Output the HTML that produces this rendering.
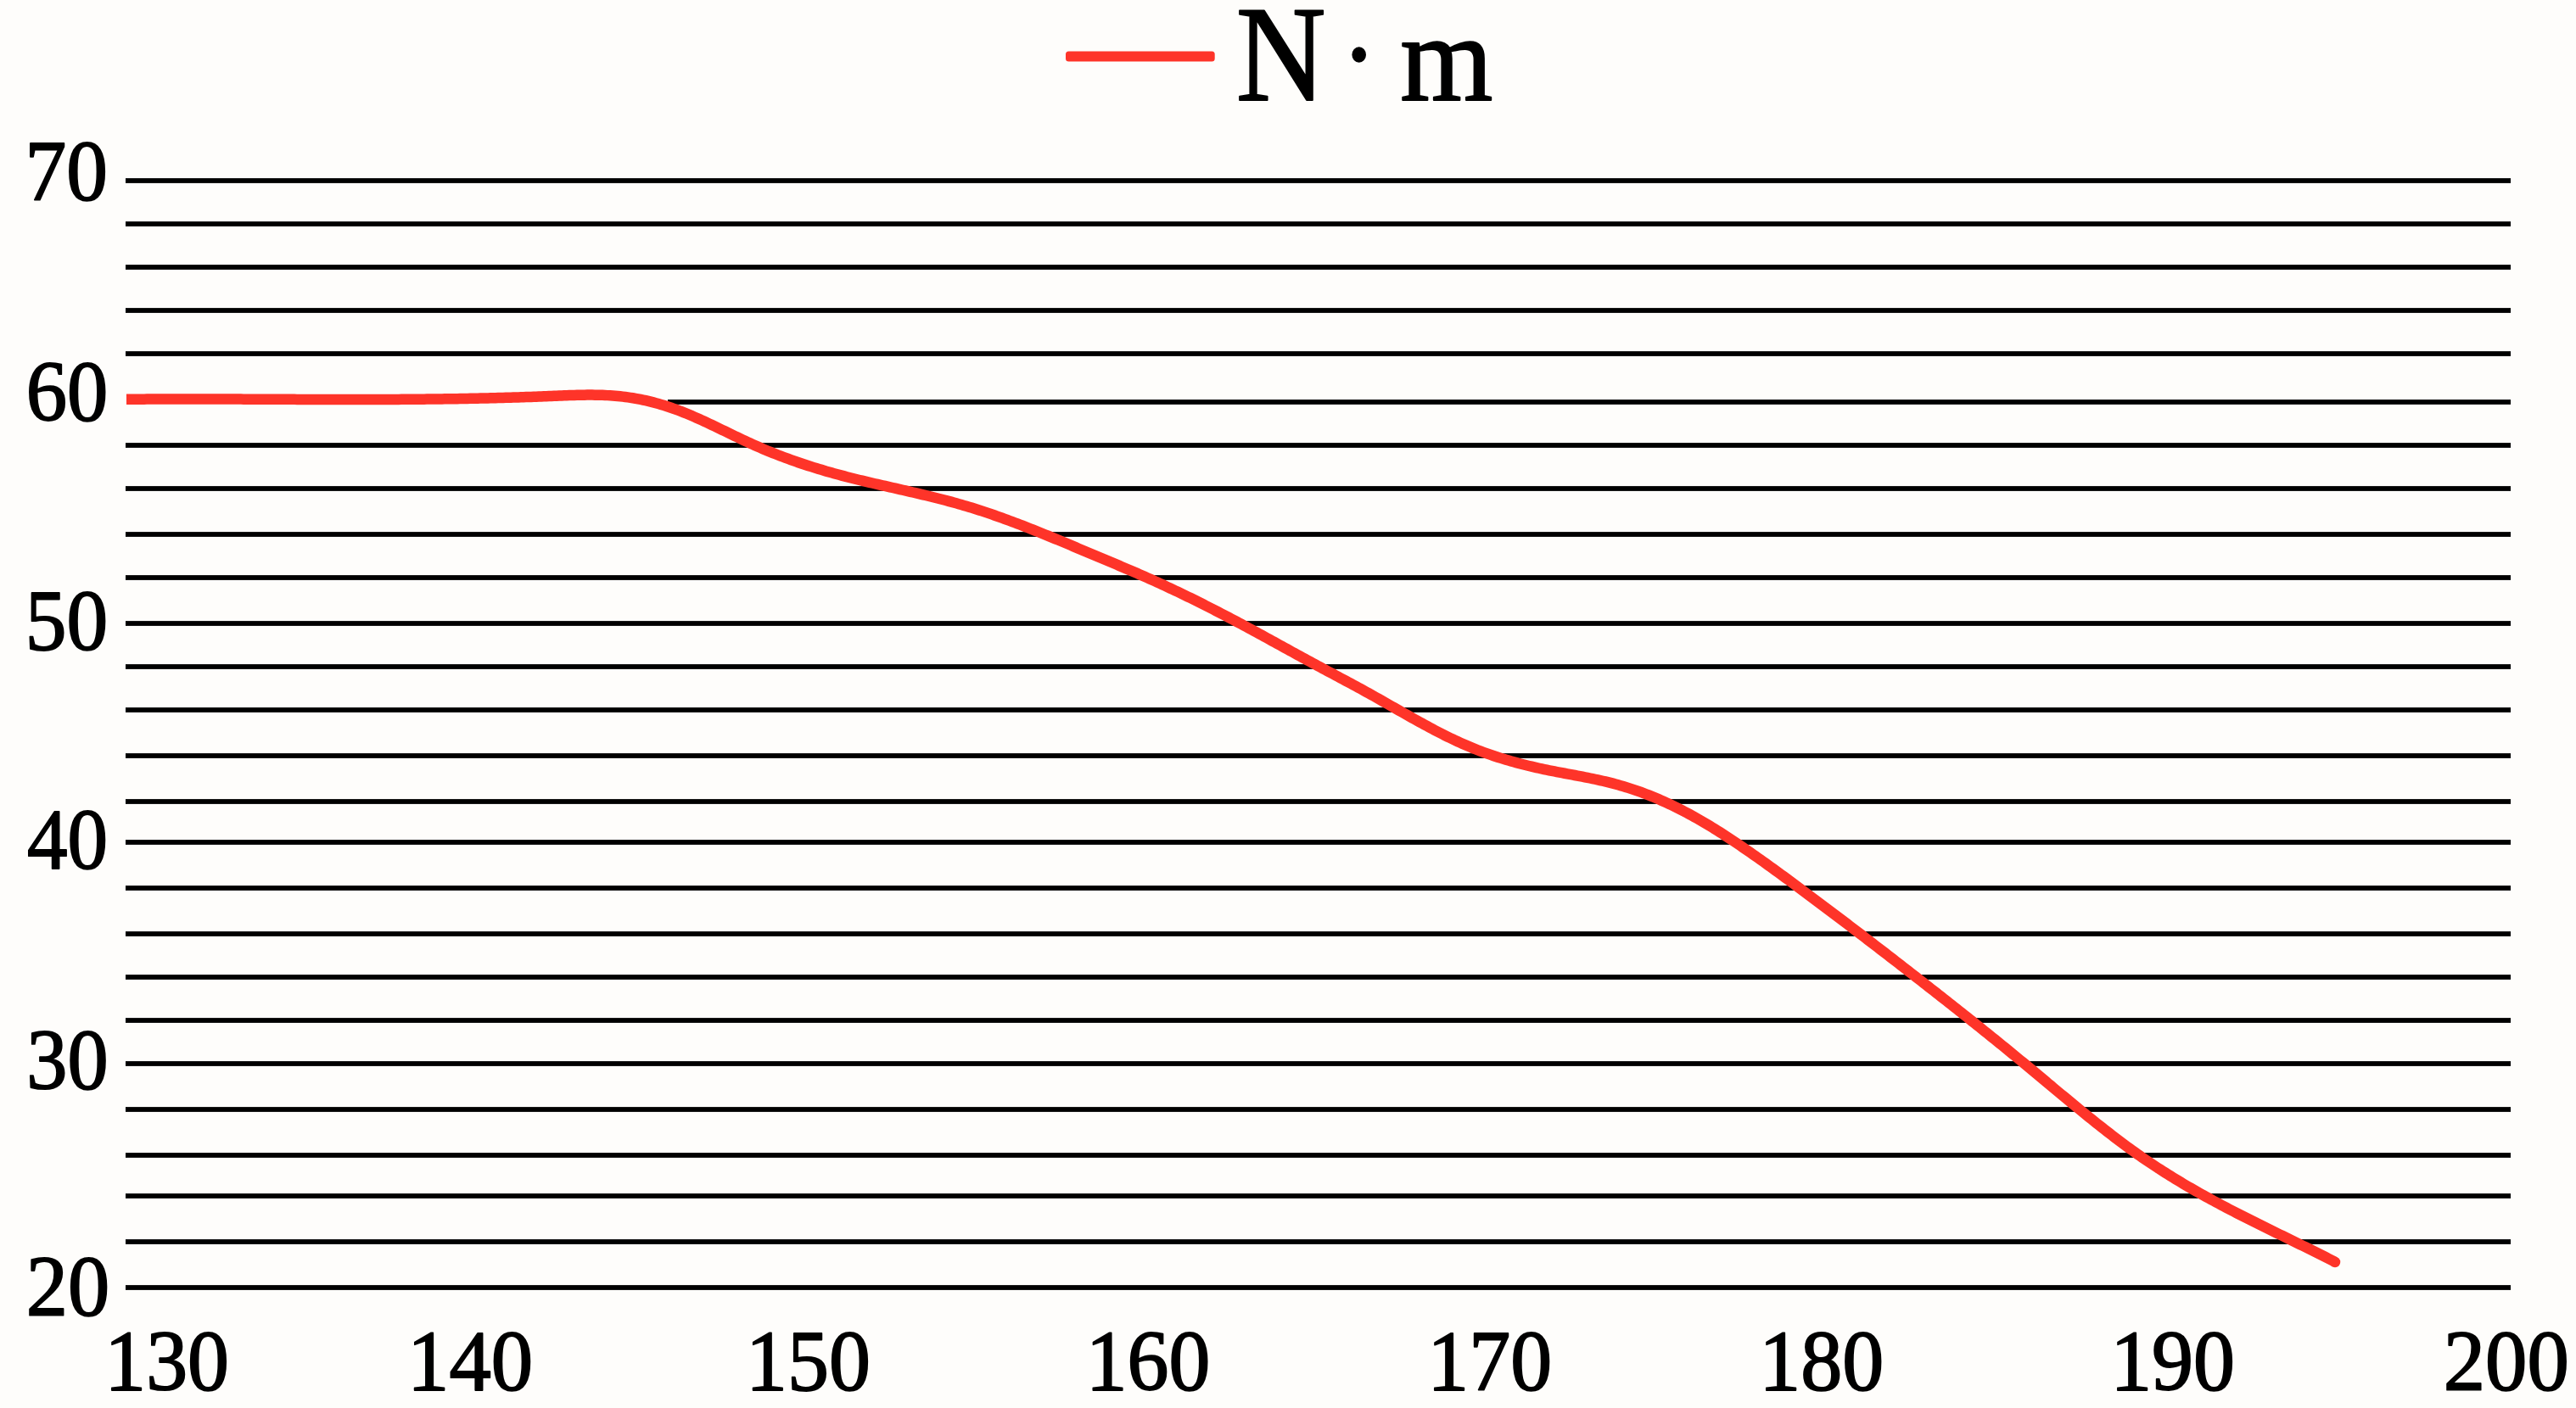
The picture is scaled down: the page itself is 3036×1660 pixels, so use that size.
<!DOCTYPE html>
<html><head><meta charset="utf-8"><title>N&#183;m chart</title>
<style>
html,body{margin:0;padding:0;background:#fefdfb;}
body{width:3036px;height:1660px;overflow:hidden;font-family:"Liberation Serif",serif;}
svg{display:block;}
</style></head>
<body>
<svg width="3036" height="1660" viewBox="0 0 3036 1660">
<rect x="0" y="0" width="3036" height="1660" fill="#fefdfb"/>
<g fill="#000">
<rect x="148" y="210.1" width="2811" height="5.8"/>
<rect x="148" y="261.1" width="2811" height="5.8"/>
<rect x="148" y="312.1" width="2811" height="5.8"/>
<rect x="148" y="363.1" width="2811" height="5.8"/>
<rect x="148" y="414.1" width="2811" height="5.8"/>
<rect x="787" y="471.1" width="2172" height="5.8"/>
<rect x="148" y="522.1" width="2811" height="5.8"/>
<rect x="148" y="573.1" width="2811" height="5.8"/>
<rect x="148" y="627.1" width="2811" height="5.8"/>
<rect x="148" y="678.1" width="2811" height="5.8"/>
<rect x="148" y="732.1" width="2811" height="5.8"/>
<rect x="148" y="783.1" width="2811" height="5.8"/>
<rect x="148" y="834.1" width="2811" height="5.8"/>
<rect x="148" y="888.1" width="2811" height="5.8"/>
<rect x="148" y="942.1" width="2811" height="5.8"/>
<rect x="148" y="990.1" width="2811" height="5.8"/>
<rect x="148" y="1044.1" width="2811" height="5.8"/>
<rect x="148" y="1098.1" width="2811" height="5.8"/>
<rect x="148" y="1149.1" width="2811" height="5.8"/>
<rect x="148" y="1200.1" width="2811" height="5.8"/>
<rect x="148" y="1251.1" width="2811" height="5.8"/>
<rect x="148" y="1305.1" width="2811" height="5.8"/>
<rect x="148" y="1359.1" width="2811" height="5.8"/>
<rect x="148" y="1407.1" width="2811" height="5.8"/>
<rect x="148" y="1461.1" width="2811" height="5.8"/>
<rect x="148" y="1515.1" width="2811" height="5.8"/>
<path d="M149.0,470.78 L152.0,470.76 L155.0,470.73 L158.0,470.71 L161.0,470.69 L164.0,470.67 L167.0,470.65 L170.0,470.63 L173.0,470.62 L176.0,470.60 L179.0,470.59 L182.0,470.58 L185.0,470.56 L188.0,470.55 L191.0,470.54 L194.0,470.54 L197.0,470.53 L200.0,470.52 L203.0,470.51 L206.0,470.51 L209.0,470.51 L212.0,470.50 L215.0,470.50 L218.0,470.50 L221.0,470.50 L224.0,470.50 L227.0,470.50 L230.0,470.50 L233.0,470.50 L236.0,470.50 L239.0,470.51 L242.0,470.51 L245.0,470.52 L248.0,470.52 L251.0,470.53 L254.0,470.53 L257.0,470.54 L260.0,470.55 L263.0,470.56 L266.0,470.56 L269.0,470.57 L272.0,470.58 L275.0,470.59 L278.0,470.60 L281.0,470.61 L284.0,470.62 L287.0,470.63 L290.0,470.64 L293.0,470.66 L296.0,470.67 L299.0,470.68 L302.0,470.69 L305.0,470.70 L308.0,470.71 L311.0,470.73 L314.0,470.74 L317.0,470.75 L320.0,470.76 L323.0,470.78 L326.0,470.79 L329.0,470.80 L332.0,470.81 L335.0,470.82 L338.0,470.84 L341.0,470.85 L344.0,470.86 L347.0,470.87 L350.0,470.88 L353.0,470.89 L356.0,470.90 L359.0,470.91 L362.0,470.92 L365.0,470.93 L368.0,470.94 L371.0,470.95 L374.0,470.96 L377.0,470.97 L380.0,470.98 L383.0,470.98 L386.0,470.99 L389.0,471.00 L392.0,471.00 L395.0,471.01 L398.0,471.01 L401.0,471.02 L404.0,471.02 L407.0,471.02 L410.0,471.02 L413.0,471.03 L416.0,471.03 L419.0,471.03 L422.0,471.03 L425.0,471.02 L428.0,471.02 L431.0,471.02 L434.0,471.01 L437.0,471.01 L440.0,471.00 L443.0,471.00 L446.0,470.99 L449.0,470.98 L452.0,470.97 L455.0,470.96 L458.0,470.95 L461.0,470.93 L464.0,470.92 L467.0,470.90 L470.0,470.89 L473.0,470.87 L476.0,470.85 L479.0,470.83 L482.0,470.81 L485.0,470.79 L488.0,470.76 L491.0,470.74 L494.0,470.71 L497.0,470.68 L500.0,470.65 L503.0,470.62 L506.0,470.59 L509.0,470.56 L512.0,470.52 L515.0,470.49 L518.0,470.45 L521.0,470.41 L524.0,470.37 L527.0,470.33 L530.0,470.28 L533.0,470.24 L536.0,470.19 L539.0,470.14 L542.0,470.09 L545.0,470.04 L548.0,469.98 L551.0,469.93 L554.0,469.87 L557.0,469.81 L560.0,469.75 L563.0,469.68 L566.0,469.62 L569.0,469.55 L572.0,469.48 L575.0,469.41 L578.0,469.34 L581.0,469.26 L584.0,469.18 L587.0,469.10 L590.0,469.02 L593.0,468.94 L596.0,468.85 L599.0,468.77 L602.0,468.68 L605.0,468.59 L608.0,468.49 L611.0,468.39 L614.0,468.30 L617.0,468.19 L620.0,468.09 L623.0,467.99 L626.0,467.88 L629.0,467.77 L632.0,467.65 L635.0,467.54 L638.0,467.42 L641.0,467.30 L644.0,467.18 L647.0,467.05 L650.0,466.93 L653.0,466.80 L656.0,466.67 L659.0,466.54 L662.0,466.42 L665.0,466.30 L668.0,466.18 L671.0,466.08 L674.0,465.97 L677.0,465.88 L680.0,465.80 L683.0,465.73 L686.0,465.68 L689.0,465.64 L692.0,465.61 L695.0,465.60 L698.0,465.61 L701.0,465.64 L704.0,465.69 L707.0,465.76 L710.0,465.86 L713.0,465.98 L716.0,466.12 L719.0,466.30 L722.0,466.50 L725.0,466.73 L728.0,466.99 L731.0,467.28 L734.0,467.61 L737.0,467.97 L740.0,468.37 L743.0,468.81 L746.0,469.28 L749.0,469.79 L752.0,470.34 L755.0,470.92 L758.0,471.55 L761.0,472.20 L764.0,472.90 L767.0,473.63 L770.0,474.39 L773.0,475.19 L776.0,476.03 L779.0,476.90 L782.0,477.81 L785.0,478.75 L788.0,479.73 L791.0,480.74 L794.0,481.79 L797.0,482.87 L800.0,483.99 L803.0,485.14 L806.0,486.32 L809.0,487.54 L812.0,488.78 L815.0,490.06 L818.0,491.36 L821.0,492.68 L824.0,494.03 L827.0,495.39 L830.0,496.77 L833.0,498.17 L836.0,499.58 L839.0,501.01 L842.0,502.44 L845.0,503.89 L848.0,505.33 L851.0,506.78 L854.0,508.24 L857.0,509.69 L860.0,511.14 L863.0,512.59 L866.0,514.04 L869.0,515.48 L872.0,516.91 L875.0,518.33 L878.0,519.73 L881.0,521.13 L884.0,522.51 L887.0,523.87 L890.0,525.22 L893.0,526.55 L896.0,527.85 L899.0,529.14 L902.0,530.41 L905.0,531.66 L908.0,532.88 L911.0,534.09 L914.0,535.29 L917.0,536.46 L920.0,537.61 L923.0,538.75 L926.0,539.87 L929.0,540.97 L932.0,542.06 L935.0,543.13 L938.0,544.18 L941.0,545.22 L944.0,546.24 L947.0,547.24 L950.0,548.23 L953.0,549.21 L956.0,550.17 L959.0,551.11 L962.0,552.04 L965.0,552.96 L968.0,553.86 L971.0,554.75 L974.0,555.63 L977.0,556.49 L980.0,557.34 L983.0,558.18 L986.0,559.00 L989.0,559.82 L992.0,560.62 L995.0,561.41 L998.0,562.19 L1001.0,562.96 L1004.0,563.72 L1007.0,564.47 L1010.0,565.21 L1013.0,565.95 L1016.0,566.67 L1019.0,567.39 L1022.0,568.11 L1025.0,568.81 L1028.0,569.52 L1031.0,570.22 L1034.0,570.91 L1037.0,571.60 L1040.0,572.29 L1043.0,572.97 L1046.0,573.65 L1049.0,574.33 L1052.0,575.01 L1055.0,575.69 L1058.0,576.37 L1061.0,577.05 L1064.0,577.74 L1067.0,578.42 L1070.0,579.11 L1073.0,579.79 L1076.0,580.49 L1079.0,581.18 L1082.0,581.88 L1085.0,582.59 L1088.0,583.30 L1091.0,584.02 L1094.0,584.74 L1097.0,585.47 L1100.0,586.21 L1103.0,586.96 L1106.0,587.71 L1109.0,588.48 L1112.0,589.25 L1115.0,590.04 L1118.0,590.84 L1121.0,591.65 L1124.0,592.47 L1127.0,593.30 L1130.0,594.15 L1133.0,595.01 L1136.0,595.88 L1139.0,596.77 L1142.0,597.67 L1145.0,598.59 L1148.0,599.53 L1151.0,600.48 L1154.0,601.44 L1157.0,602.42 L1160.0,603.41 L1163.0,604.41 L1166.0,605.43 L1169.0,606.46 L1172.0,607.50 L1175.0,608.56 L1178.0,609.62 L1181.0,610.70 L1184.0,611.79 L1187.0,612.89 L1190.0,614.00 L1193.0,615.12 L1196.0,616.24 L1199.0,617.38 L1202.0,618.53 L1205.0,619.69 L1208.0,620.85 L1211.0,622.02 L1214.0,623.20 L1217.0,624.39 L1220.0,625.59 L1223.0,626.79 L1226.0,627.99 L1229.0,629.21 L1232.0,630.43 L1235.0,631.65 L1238.0,632.88 L1241.0,634.12 L1244.0,635.35 L1247.0,636.60 L1250.0,637.84 L1253.0,639.09 L1256.0,640.35 L1259.0,641.60 L1262.0,642.86 L1265.0,644.12 L1268.0,645.38 L1271.0,646.65 L1274.0,647.91 L1277.0,649.18 L1280.0,650.44 L1283.0,651.71 L1286.0,652.98 L1289.0,654.24 L1292.0,655.51 L1295.0,656.77 L1298.0,658.03 L1301.0,659.29 L1304.0,660.55 L1307.0,661.82 L1310.0,663.08 L1313.0,664.34 L1316.0,665.60 L1319.0,666.87 L1322.0,668.14 L1325.0,669.42 L1328.0,670.69 L1331.0,671.97 L1334.0,673.26 L1337.0,674.55 L1340.0,675.85 L1343.0,677.16 L1346.0,678.47 L1349.0,679.79 L1352.0,681.12 L1355.0,682.46 L1358.0,683.80 L1361.0,685.16 L1364.0,686.52 L1367.0,687.89 L1370.0,689.27 L1373.0,690.66 L1376.0,692.06 L1379.0,693.47 L1382.0,694.88 L1385.0,696.30 L1388.0,697.73 L1391.0,699.17 L1394.0,700.61 L1397.0,702.07 L1400.0,703.53 L1403.0,704.99 L1406.0,706.47 L1409.0,707.95 L1412.0,709.44 L1415.0,710.94 L1418.0,712.45 L1421.0,713.96 L1424.0,715.48 L1427.0,717.00 L1430.0,718.54 L1433.0,720.08 L1436.0,721.62 L1439.0,723.18 L1442.0,724.74 L1445.0,726.30 L1448.0,727.88 L1451.0,729.45 L1454.0,731.04 L1457.0,732.63 L1460.0,734.23 L1463.0,735.83 L1466.0,737.44 L1469.0,739.06 L1472.0,740.67 L1475.0,742.30 L1478.0,743.93 L1481.0,745.56 L1484.0,747.19 L1487.0,748.83 L1490.0,750.47 L1493.0,752.12 L1496.0,753.76 L1499.0,755.41 L1502.0,757.06 L1505.0,758.71 L1508.0,760.36 L1511.0,762.01 L1514.0,763.66 L1517.0,765.32 L1520.0,766.97 L1523.0,768.61 L1526.0,770.26 L1529.0,771.91 L1532.0,773.55 L1535.0,775.19 L1538.0,776.83 L1541.0,778.46 L1544.0,780.10 L1547.0,781.72 L1550.0,783.35 L1553.0,784.96 L1556.0,786.58 L1559.0,788.19 L1562.0,789.79 L1565.0,791.40 L1568.0,793.00 L1571.0,794.60 L1574.0,796.20 L1577.0,797.80 L1580.0,799.41 L1583.0,801.01 L1586.0,802.62 L1589.0,804.23 L1592.0,805.84 L1595.0,807.46 L1598.0,809.09 L1601.0,810.72 L1604.0,812.35 L1607.0,814.00 L1610.0,815.65 L1613.0,817.32 L1616.0,818.99 L1619.0,820.67 L1622.0,822.36 L1625.0,824.05 L1628.0,825.75 L1631.0,827.45 L1634.0,829.16 L1637.0,830.87 L1640.0,832.58 L1643.0,834.29 L1646.0,836.00 L1649.0,837.71 L1652.0,839.41 L1655.0,841.11 L1658.0,842.81 L1661.0,844.50 L1664.0,846.19 L1667.0,847.87 L1670.0,849.53 L1673.0,851.19 L1676.0,852.84 L1679.0,854.48 L1682.0,856.11 L1685.0,857.72 L1688.0,859.31 L1691.0,860.90 L1694.0,862.46 L1697.0,864.01 L1700.0,865.54 L1703.0,867.05 L1706.0,868.54 L1709.0,870.01 L1712.0,871.45 L1715.0,872.87 L1718.0,874.27 L1721.0,875.64 L1724.0,876.99 L1727.0,878.31 L1730.0,879.60 L1733.0,880.86 L1736.0,882.10 L1739.0,883.30 L1742.0,884.48 L1745.0,885.63 L1748.0,886.75 L1751.0,887.85 L1754.0,888.92 L1757.0,889.96 L1760.0,890.98 L1763.0,891.98 L1766.0,892.95 L1769.0,893.91 L1772.0,894.83 L1775.0,895.74 L1778.0,896.62 L1781.0,897.49 L1784.0,898.33 L1787.0,899.15 L1790.0,899.96 L1793.0,900.74 L1796.0,901.51 L1799.0,902.26 L1802.0,902.99 L1805.0,903.70 L1808.0,904.40 L1811.0,905.08 L1814.0,905.75 L1817.0,906.40 L1820.0,907.04 L1823.0,907.67 L1826.0,908.28 L1829.0,908.88 L1832.0,909.47 L1835.0,910.05 L1838.0,910.62 L1841.0,911.19 L1844.0,911.76 L1847.0,912.32 L1850.0,912.88 L1853.0,913.44 L1856.0,914.00 L1859.0,914.57 L1862.0,915.14 L1865.0,915.72 L1868.0,916.30 L1871.0,916.89 L1874.0,917.50 L1877.0,918.12 L1880.0,918.75 L1883.0,919.39 L1886.0,920.06 L1889.0,920.74 L1892.0,921.44 L1895.0,922.16 L1898.0,922.90 L1901.0,923.67 L1904.0,924.47 L1907.0,925.29 L1910.0,926.14 L1913.0,927.02 L1916.0,927.93 L1919.0,928.87 L1922.0,929.84 L1925.0,930.83 L1928.0,931.86 L1931.0,932.91 L1934.0,933.99 L1937.0,935.10 L1940.0,936.24 L1943.0,937.41 L1946.0,938.60 L1949.0,939.83 L1952.0,941.08 L1955.0,942.36 L1958.0,943.67 L1961.0,945.00 L1964.0,946.37 L1967.0,947.76 L1970.0,949.18 L1973.0,950.62 L1976.0,952.10 L1979.0,953.60 L1982.0,955.13 L1985.0,956.68 L1988.0,958.27 L1991.0,959.88 L1994.0,961.51 L1997.0,963.18 L2000.0,964.87 L2003.0,966.58 L2006.0,968.32 L2009.0,970.09 L2012.0,971.88 L2015.0,973.69 L2018.0,975.52 L2021.0,977.37 L2024.0,979.25 L2027.0,981.14 L2030.0,983.06 L2033.0,984.99 L2036.0,986.94 L2039.0,988.91 L2042.0,990.89 L2045.0,992.89 L2048.0,994.90 L2051.0,996.93 L2054.0,998.97 L2057.0,1001.03 L2060.0,1003.10 L2063.0,1005.18 L2066.0,1007.27 L2069.0,1009.38 L2072.0,1011.50 L2075.0,1013.62 L2078.0,1015.76 L2081.0,1017.91 L2084.0,1020.06 L2087.0,1022.23 L2090.0,1024.40 L2093.0,1026.58 L2096.0,1028.77 L2099.0,1030.96 L2102.0,1033.16 L2105.0,1035.37 L2108.0,1037.58 L2111.0,1039.80 L2114.0,1042.02 L2117.0,1044.24 L2120.0,1046.47 L2123.0,1048.71 L2126.0,1050.94 L2129.0,1053.18 L2132.0,1055.42 L2135.0,1057.66 L2138.0,1059.91 L2141.0,1062.16 L2144.0,1064.41 L2147.0,1066.66 L2150.0,1068.92 L2153.0,1071.18 L2156.0,1073.44 L2159.0,1075.70 L2162.0,1077.97 L2165.0,1080.24 L2168.0,1082.51 L2171.0,1084.79 L2174.0,1087.07 L2177.0,1089.35 L2180.0,1091.63 L2183.0,1093.91 L2186.0,1096.20 L2189.0,1098.49 L2192.0,1100.78 L2195.0,1103.07 L2198.0,1105.37 L2201.0,1107.67 L2204.0,1109.97 L2207.0,1112.27 L2210.0,1114.58 L2213.0,1116.88 L2216.0,1119.19 L2219.0,1121.51 L2222.0,1123.82 L2225.0,1126.13 L2228.0,1128.45 L2231.0,1130.77 L2234.0,1133.09 L2237.0,1135.42 L2240.0,1137.74 L2243.0,1140.07 L2246.0,1142.40 L2249.0,1144.73 L2252.0,1147.07 L2255.0,1149.40 L2258.0,1151.74 L2261.0,1154.08 L2264.0,1156.42 L2267.0,1158.76 L2270.0,1161.11 L2273.0,1163.45 L2276.0,1165.80 L2279.0,1168.15 L2282.0,1170.51 L2285.0,1172.86 L2288.0,1175.22 L2291.0,1177.58 L2294.0,1179.95 L2297.0,1182.31 L2300.0,1184.68 L2303.0,1187.05 L2306.0,1189.43 L2309.0,1191.81 L2312.0,1194.19 L2315.0,1196.57 L2318.0,1198.96 L2321.0,1201.35 L2324.0,1203.74 L2327.0,1206.14 L2330.0,1208.54 L2333.0,1210.94 L2336.0,1213.35 L2339.0,1215.76 L2342.0,1218.18 L2345.0,1220.60 L2348.0,1223.02 L2351.0,1225.45 L2354.0,1227.88 L2357.0,1230.32 L2360.0,1232.76 L2363.0,1235.20 L2366.0,1237.65 L2369.0,1240.10 L2372.0,1242.56 L2375.0,1245.03 L2378.0,1247.49 L2381.0,1249.97 L2384.0,1252.44 L2387.0,1254.92 L2390.0,1257.41 L2393.0,1259.90 L2396.0,1262.40 L2399.0,1264.90 L2402.0,1267.40 L2405.0,1269.90 L2408.0,1272.41 L2411.0,1274.91 L2414.0,1277.42 L2417.0,1279.92 L2420.0,1282.43 L2423.0,1284.93 L2426.0,1287.43 L2429.0,1289.93 L2432.0,1292.42 L2435.0,1294.91 L2438.0,1297.40 L2441.0,1299.88 L2444.0,1302.35 L2447.0,1304.82 L2450.0,1307.28 L2453.0,1309.74 L2456.0,1312.18 L2459.0,1314.62 L2462.0,1317.05 L2465.0,1319.46 L2468.0,1321.87 L2471.0,1324.27 L2474.0,1326.65 L2477.0,1329.02 L2480.0,1331.38 L2483.0,1333.72 L2486.0,1336.05 L2489.0,1338.37 L2492.0,1340.67 L2495.0,1342.95 L2498.0,1345.22 L2501.0,1347.47 L2504.0,1349.70 L2507.0,1351.91 L2510.0,1354.10 L2513.0,1356.28 L2516.0,1358.43 L2519.0,1360.57 L2522.0,1362.68 L2525.0,1364.77 L2528.0,1366.83 L2531.0,1368.88 L2534.0,1370.91 L2537.0,1372.91 L2540.0,1374.90 L2543.0,1376.86 L2546.0,1378.81 L2549.0,1380.73 L2552.0,1382.64 L2555.0,1384.53 L2558.0,1386.40 L2561.0,1388.26 L2564.0,1390.10 L2567.0,1391.92 L2570.0,1393.72 L2573.0,1395.51 L2576.0,1397.28 L2579.0,1399.04 L2582.0,1400.78 L2585.0,1402.51 L2588.0,1404.23 L2591.0,1405.93 L2594.0,1407.62 L2597.0,1409.29 L2600.0,1410.95 L2603.0,1412.60 L2606.0,1414.24 L2609.0,1415.87 L2612.0,1417.49 L2615.0,1419.09 L2618.0,1420.69 L2621.0,1422.28 L2624.0,1423.85 L2627.0,1425.42 L2630.0,1426.98 L2633.0,1428.53 L2636.0,1430.08 L2639.0,1431.61 L2642.0,1433.14 L2645.0,1434.66 L2648.0,1436.18 L2651.0,1437.69 L2654.0,1439.20 L2657.0,1440.70 L2660.0,1442.19 L2663.0,1443.68 L2666.0,1445.17 L2669.0,1446.65 L2672.0,1448.13 L2675.0,1449.61 L2678.0,1451.09 L2681.0,1452.56 L2684.0,1454.03 L2687.0,1455.50 L2690.0,1456.97 L2693.0,1458.44 L2696.0,1459.91 L2699.0,1461.38 L2702.0,1462.85 L2705.0,1464.32 L2708.0,1465.79 L2711.0,1467.27 L2714.0,1468.74 L2717.0,1470.22 L2720.0,1471.71 L2723.0,1473.19 L2726.0,1474.68 L2729.0,1476.18 L2732.0,1477.68 L2735.0,1479.18 L2738.0,1480.69 L2741.0,1482.20 L2744.0,1483.73 L2747.0,1485.25 L2750.0,1486.79 L2752.0,1487.81" fill="none" stroke="#fe3429" stroke-width="12.5" stroke-linecap="butt" stroke-linejoin="round"/>
<circle cx="2752.0" cy="1488.0" r="6.25" fill="#fe3429"/>
<rect x="1256" y="60.6" width="175.7" height="12" rx="3.5" fill="#fe3429"/>
<ellipse cx="1601.7" cy="64.5" rx="8.3" ry="9.2"/>
<g font-family="Liberation Serif" font-weight="normal" font-size="1000" stroke="#000" stroke-linejoin="round">
<text transform="matrix(0.09737 0 0 0.10245 29.45 236.05)" stroke-width="18">70</text>
<text transform="matrix(0.09658 0 0 0.10101 30.72 496.08)" stroke-width="18">60</text>
<text transform="matrix(0.09740 0 0 0.10188 29.73 766.06)" stroke-width="18">50</text>
<text transform="matrix(0.09510 0 0 0.10101 31.95 1023.58)" stroke-width="18">40</text>
<text transform="matrix(0.09635 0 0 0.10144 31.24 1283.57)" stroke-width="18">30</text>
<text transform="matrix(0.09840 0 0 0.10173 30.86 1551.07)" stroke-width="18">20</text>
<text transform="matrix(0.09784 0 0 0.10173 123.27 1638.87)" stroke-width="18">130</text>
<text transform="matrix(0.09878 0 0 0.10173 480.00 1638.87)" stroke-width="18">140</text>
<text transform="matrix(0.09792 0 0 0.10144 879.06 1639.37)" stroke-width="18">150</text>
<text transform="matrix(0.09770 0 0 0.10173 1279.78 1639.07)" stroke-width="18">160</text>
<text transform="matrix(0.09784 0 0 0.10188 1682.37 1638.96)" stroke-width="18">170</text>
<text transform="matrix(0.09806 0 0 0.10188 2073.15 1638.96)" stroke-width="18">180</text>
<text transform="matrix(0.09792 0 0 0.10188 2487.16 1638.96)" stroke-width="18">190</text>
<text transform="matrix(0.09868 0 0 0.10188 2879.75 1638.96)" stroke-width="18">200</text>
<text transform="matrix(0.14648 0 0 0.16192 1456.73 118.13)" stroke-width="12">N</text>
<text transform="matrix(0.14040 0 0 0.14639 1650.23 117.88)" stroke-width="14">m</text>
</g>
</g>
</svg>
</body></html>
